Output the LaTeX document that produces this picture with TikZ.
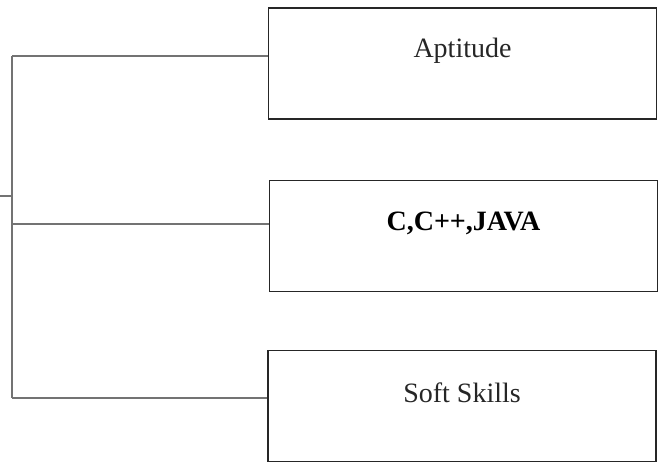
\documentclass[tikz,border=0pt]{standalone}
\usepackage{fontspec}
\setmainfont{Liberation Serif}
\usetikzlibrary{calc}

\tikzset{
  topicbox/.style={draw=black!85, line width=0.8pt, minimum width=194pt, minimum height=55.5pt, inner sep=0pt},
  topictext/.style={text=black!85, font=\fontsize{14}{16}\selectfont, inner sep=0pt},
  branch/.style={draw=black!55, line width=0.6pt}
}

\begin{document}
\begin{tikzpicture}[x=0.5pt,y=-0.5pt]
\useasboundingbox (0,0) rectangle (659,463);
\node[topicbox] (apt) at (462.5,63.5) {};
\node[topicbox] (lang) at (463.5,236) {};
\node[topicbox] (soft) at (462,406) {};
\path (apt.center) ++(0,-13) node[topictext] (apttext) {Aptitude};
\path (lang.center) ++(0,-13) node[topictext, font=\fontsize{14}{16}\selectfont\bfseries, text=black] (langtext) {C,C++,JAVA};
\path (soft.center) ++(0,-13) node[topictext] (softtext) {Soft Skills};
\coordinate (t1) at (12,56);
\coordinate (t2) at (12,224);
\coordinate (t3) at (12,398);
\coordinate (stub) at (0,196);
\draw[branch] (t1) -- (t3);
\draw[branch] (stub) -- (stub -| t1);
\draw[branch] (t1) -- (t1 -| apt.west);
\draw[branch] (t2) -- (t2 -| lang.west);
\draw[branch] (t3) -- (t3 -| soft.west);
\end{tikzpicture}
\end{document}
